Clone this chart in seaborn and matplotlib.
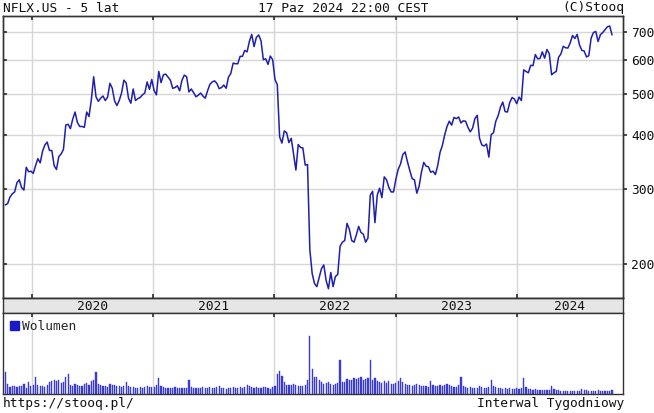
import pandas as pd
import matplotlib
matplotlib.use('Agg')
import matplotlib.pyplot as plt
import matplotlib.dates as mdates
from matplotlib.ticker import FixedLocator, NullLocator, FixedFormatter
from matplotlib.patches import Patch
import seaborn as sns

# Dane tygodniowe NFLX.US (zamknięcia), od tygodnia 14.10.2019 do 14.10.2024
close_2019 = [275, 277, 287, 292, 295, 310, 315, 302, 298, 337, 329]
close_2020 = [330, 326, 340, 353, 345, 367, 380, 386, 369, 369, 340, 333, 357,
              362, 371, 423, 425, 415, 437, 454, 429, 420, 420, 418, 454, 443,
              485, 549, 493, 481, 489, 495, 483, 492, 530, 516, 482, 470, 483,
              503, 539, 531, 489, 476, 514, 483, 488, 491, 498, 503, 534, 513]
close_2021 = [541, 510, 498, 565, 532, 555, 557, 548, 539, 516, 518, 523, 509,
              539, 554, 549, 506, 514, 504, 493, 497, 503, 495, 489, 509, 527,
              534, 537, 530, 515, 518, 525, 516, 548, 559, 591, 589, 589, 613,
              613, 633, 628, 665, 690, 646, 679, 688, 666, 602, 605, 587, 614, 602]
close_2022 = [541, 526, 397, 384, 410, 406, 385, 394, 362, 332, 381, 375, 374,
              341, 342, 216, 190, 180, 177, 186, 195, 199, 183, 175, 191, 177,
              187, 189, 220, 225, 227, 249, 241, 227, 225, 234, 245, 237, 235,
              225, 230, 290, 296, 250, 290, 301, 286, 320, 315, 302, 295, 295]
close_2023 = [316, 333, 343, 361, 366, 347, 331, 317, 315, 293, 304, 328, 346,
              339, 338, 328, 330, 324, 340, 365, 379, 401, 420, 432, 423, 441,
              438, 442, 428, 433, 432, 418, 408, 416, 438, 446, 394, 380, 378,
              382, 356, 402, 406, 432, 445, 466, 479, 455, 454, 478, 491, 487]
close_2024 = [475, 492, 483, 570, 565, 561, 584, 583, 619, 605, 606, 628, 607,
              636, 622, 555, 561, 565, 610, 621, 647, 642, 641, 659, 686, 675,
              690, 652, 633, 631, 611, 615, 676, 697, 701, 664, 689, 697, 708,
              719, 722, 688]

vol_2019 = [95, 43, 30, 34, 34, 30, 34, 34, 43, 26, 52]
vol_2020 = [34, 39, 73, 39, 34, 34, 30, 39, 52, 56, 60, 56, 60,
            47, 52, 73, 86, 39, 34, 43, 39, 34, 34, 43, 47, 39,
            56, 60, 95, 43, 39, 34, 34, 30, 43, 39, 39, 34, 34,
            30, 34, 52, 34, 30, 30, 26, 26, 30, 26, 30, 34, 30]
vol_2021 = [30, 30, 39, 69, 34, 30, 26, 26, 26, 26, 30, 26, 26,
            26, 26, 26, 60, 30, 26, 26, 26, 26, 30, 26, 26, 30,
            26, 26, 30, 34, 26, 26, 22, 26, 26, 30, 26, 26, 30,
            26, 30, 39, 34, 30, 26, 30, 26, 26, 30, 30, 26, 22, 30]
vol_2022 = [34, 86, 99, 77, 52, 39, 39, 39, 43, 39, 34, 34, 34,
            39, 60, 250, 108, 73, 73, 60, 52, 43, 47, 52, 43, 39,
            43, 47, 146, 52, 52, 65, 60, 60, 69, 65, 69, 73, 60,
            65, 69, 146, 60, 69, 56, 52, 47, 56, 47, 56, 43, 43]
vol_2023 = [47, 56, 69, 52, 43, 39, 39, 34, 39, 43, 39, 34, 34,
            34, 30, 56, 39, 34, 34, 39, 34, 39, 43, 39, 34, 30,
            30, 39, 73, 34, 30, 26, 30, 26, 26, 26, 34, 30, 26,
            26, 30, 60, 34, 30, 26, 26, 22, 26, 22, 26, 22, 22]
vol_2024 = [26, 22, 26, 69, 30, 22, 22, 17, 22, 17, 17, 17, 17,
            17, 17, 34, 22, 17, 17, 13, 13, 13, 13, 13, 13, 13,
            13, 13, 22, 17, 17, 13, 13, 13, 13, 17, 13, 13, 13,
            13, 13, 17]

close = close_2019 + close_2020 + close_2021 + close_2022 + close_2023 + close_2024
volume = vol_2019 + vol_2020 + vol_2021 + vol_2022 + vol_2023 + vol_2024
dates = pd.date_range('2019-10-14', periods=len(close), freq='W-MON')
df = pd.DataFrame({'data': dates, 'kurs': close, 'wolumen': volume})

price_ticks = [200, 300, 400, 500, 600, 700]
years = [2020, 2021, 2022, 2023, 2024]
x_start = pd.Timestamp('2019-10-07')
x_end = pd.Timestamp('2024-11-16')

line_color = '#1f1fae'
bar_color = '#3b3bd0'
grid_color = '#d6d6d6'
edge_color = '#333333'
font = 'DejaVu Sans Mono'

sns.set_theme(style='white')
plt.rcParams['font.family'] = [font, 'DejaVu Sans']
plt.rcParams['font.size'] = 9.3

W, H = 654, 413
fig = plt.figure(figsize=(W / 100, H / 100), dpi=100)
ax = fig.add_axes([3 / W, 1 - 298 / H, 620 / W, 282 / H])
ax_band = fig.add_axes([3 / W, 1 - 313 / H, 620 / W, 15 / H])
ax_vol = fig.add_axes([3 / W, 1 - 394 / H, 620 / W, 81 / H])

# --- kurs ---
sns.lineplot(data=df, x='data', y='kurs', ax=ax, color=line_color, lw=1.1)
ax.set_yscale('log')
ax.set_ylim(166.5, 762)
ax.set_xlim(x_start, x_end)
ax.yaxis.set_major_locator(FixedLocator(price_ticks))
ax.yaxis.set_minor_locator(NullLocator())
ax.yaxis.set_major_formatter(FixedFormatter([]))
ax.xaxis.set_major_locator(mdates.YearLocator())
ax.xaxis.set_minor_locator(NullLocator())
ax.grid(True, color=grid_color, lw=1)
ax.tick_params(axis='both', direction='in', length=3, color=edge_color,
               labelleft=False, labelbottom=False, left=True, right=False,
               top=True, bottom=True)
ax.set_xlabel('')
ax.set_ylabel('')

ax2 = ax.twinx()
ax2.set_yscale('log')
ax2.set_ylim(ax.get_ylim())
ax2.yaxis.set_major_locator(FixedLocator(price_ticks))
ax2.yaxis.set_minor_locator(NullLocator())
ax2.set_yticklabels([str(t) for t in price_ticks])
ax2.tick_params(axis='y', direction='out', length=3, pad=3, color=edge_color,
                labelsize=9.3, labelcolor='#111111')
ax2.grid(False)

# --- pasek lat ---
ax_band.set_facecolor('#e6e6e6')
ax_band.set_xlim(x_start, x_end)
ax_band.set_ylim(0, 1)
ax_band.set_xticks([])
ax_band.set_yticks([])
bounds = [pd.Timestamp(f'{y}-01-01') for y in years] + [x_end]
for i, y in enumerate(years):
    a, b = bounds[i], min(bounds[i + 1], x_end)
    mid = a + (b - a) / 2
    ax_band.text(mid, 0.45, str(y), ha='center', va='center', fontsize=9.3, color='#111111')

# --- wolumen ---
ax_vol.bar(df['data'], df['wolumen'], width=3.5, color=bar_color, edgecolor=bar_color, lw=0.3)
ax_vol.set_xlim(x_start, x_end)
ax_vol.set_ylim(0, max(volume) * 81 / 58)
ax_vol.xaxis.set_major_locator(mdates.YearLocator())
ax_vol.xaxis.set_minor_locator(NullLocator())
ax_vol.set_yticks([])
ax_vol.grid(True, axis='x', color=grid_color, lw=1)
ax_vol.tick_params(axis='x', direction='in', length=3, color=edge_color,
                   labelbottom=False, top=True, bottom=False)
ax_vol.legend(handles=[Patch(facecolor='#1a1ac8', edgecolor='#1a1ac8', label='Wolumen')],
              loc='upper left', frameon=False, handlelength=0.7, handleheight=0.7,
              handletextpad=0.2, borderaxespad=0.15, fontsize=9.3)

for a_ in (ax, ax2, ax_band, ax_vol):
    for s in a_.spines.values():
        s.set_color(edge_color)
        s.set_linewidth(1.0)

# --- teksty ---
fig.text(3 / W, 1 - 8 / H, 'NFLX.US - 5 lat', ha='left', va='center', color='#111111')
fig.text(343 / W, 1 - 8 / H, '17 Paz 2024 22:00 CEST', ha='center', va='center', color='#111111')
fig.text(624 / W, 1 - 8 / H, '(C)Stooq', ha='right', va='center', color='#111111')
fig.text(3 / W, 1 - 404 / H, 'https://stooq.pl/', ha='left', va='center', color='#111111')
fig.text(624 / W, 1 - 404 / H, 'Interwal Tygodniowy', ha='right', va='center', color='#111111')

fig.savefig('out.png', dpi=100, facecolor='white')
